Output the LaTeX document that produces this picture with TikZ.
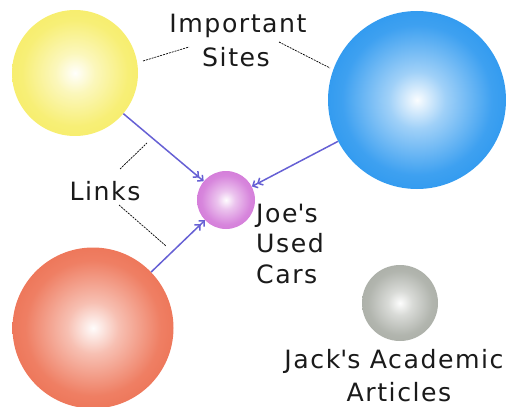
\documentclass[tikz,border=0pt]{standalone}
\usepackage{fontspec}
\setmainfont{DejaVu Sans}[LetterSpace=6]
\usetikzlibrary{arrows.meta}

\definecolor{ballyellow}{HTML}{F6EC5E}
\definecolor{ballblue}{HTML}{1C90EE}
\definecolor{ballred}{HTML}{EC6848}
\definecolor{ballpink}{HTML}{D070D6}
\definecolor{ballgray}{HTML}{A4A8A0}
\definecolor{linkblue}{HTML}{6660D4}
\definecolor{txt}{HTML}{1A1A1A}

% white highlight in the middle, full colour towards the rim
\pgfdeclareradialshading[sphcol]{sphere}{\pgfpoint{0bp}{0bp}}{%
  color(0bp)=(sphcol!2!white);
  color(8bp)=(sphcol!42!white);
  color(21bp)=(sphcol!85!white);
  color(34bp)=(sphcol);
  color(50bp)=(sphcol!91!black)}

\tikzset{
  sph/.style={circle, inner sep=0pt, draw=none,
    /utils/exec={\colorlet{sphcol}{#1}}, shading=sphere},
  lbl/.style={anchor=base, inner sep=0pt, text=txt,
    font=\fontsize{25.2}{28}\selectfont},
  leader/.style={draw=black, line width=0.7pt, dash pattern=on 2pt off 1pt},
  link/.style={draw=linkblue, line width=1.5pt,
    -{Straight Barb[length=4pt,width=8pt] Straight Barb[length=4pt,width=8pt]}},
}

\begin{document}
\begin{tikzpicture}[x=1pt,y=-1pt]
\useasboundingbox (0,0) rectangle (510,406);

% sites
\node[sph=ballyellow, minimum size=126pt] (yellow) at (75,73) {};
\node[sph=ballblue,   minimum size=178pt] (blue)   at (417,100) {};
\node[sph=ballred,    minimum size=161pt] (red)    at (93,328) {};
\node[sph=ballpink,   minimum size=58pt]  (joe)    at (226,200) {};
\node[sph=ballgray,   minimum size=76pt]  (jack)   at (400,303) {};

% links into the small site
\draw[link] (yellow) -- (joe);
\draw[link] (blue) -- (joe);
\draw[link] (red) -- (joe);

% labels
\node[lbl] (imp1) at (238,33) {Important};
\node[lbl] (imp2) at (236,67) {Sites};
\node[lbl] (links) at (105,200) {Links};
\node[lbl, anchor=base west] (joe1) at (256,222) {Joe\textquotesingle s};
\node[lbl, anchor=base west] (joe2) at (256,252) {Used};
\node[lbl, anchor=base west] (joe3) at (256,283) {Cars};
\node[lbl] (jack1) at (394,368) {Jack\textquotesingle s Academic};
\node[lbl] (jack2) at (399,401) {Articles};

% leader lines
\coordinate (la) at (143,61);
\coordinate (lb) at (189,47);
\coordinate (lc) at (279,42);
\coordinate (ld) at (330,68);
\coordinate (le) at (120,169);
\coordinate (lf) at (147,143);
\coordinate (lg) at (119,205);
\coordinate (lh) at (166,246);
\draw[leader] (la) -- (lb);
\draw[leader] (lc) -- (ld);
\draw[leader] (le) -- (lf);
\draw[leader] (lg) -- (lh);
\end{tikzpicture}
\end{document}
